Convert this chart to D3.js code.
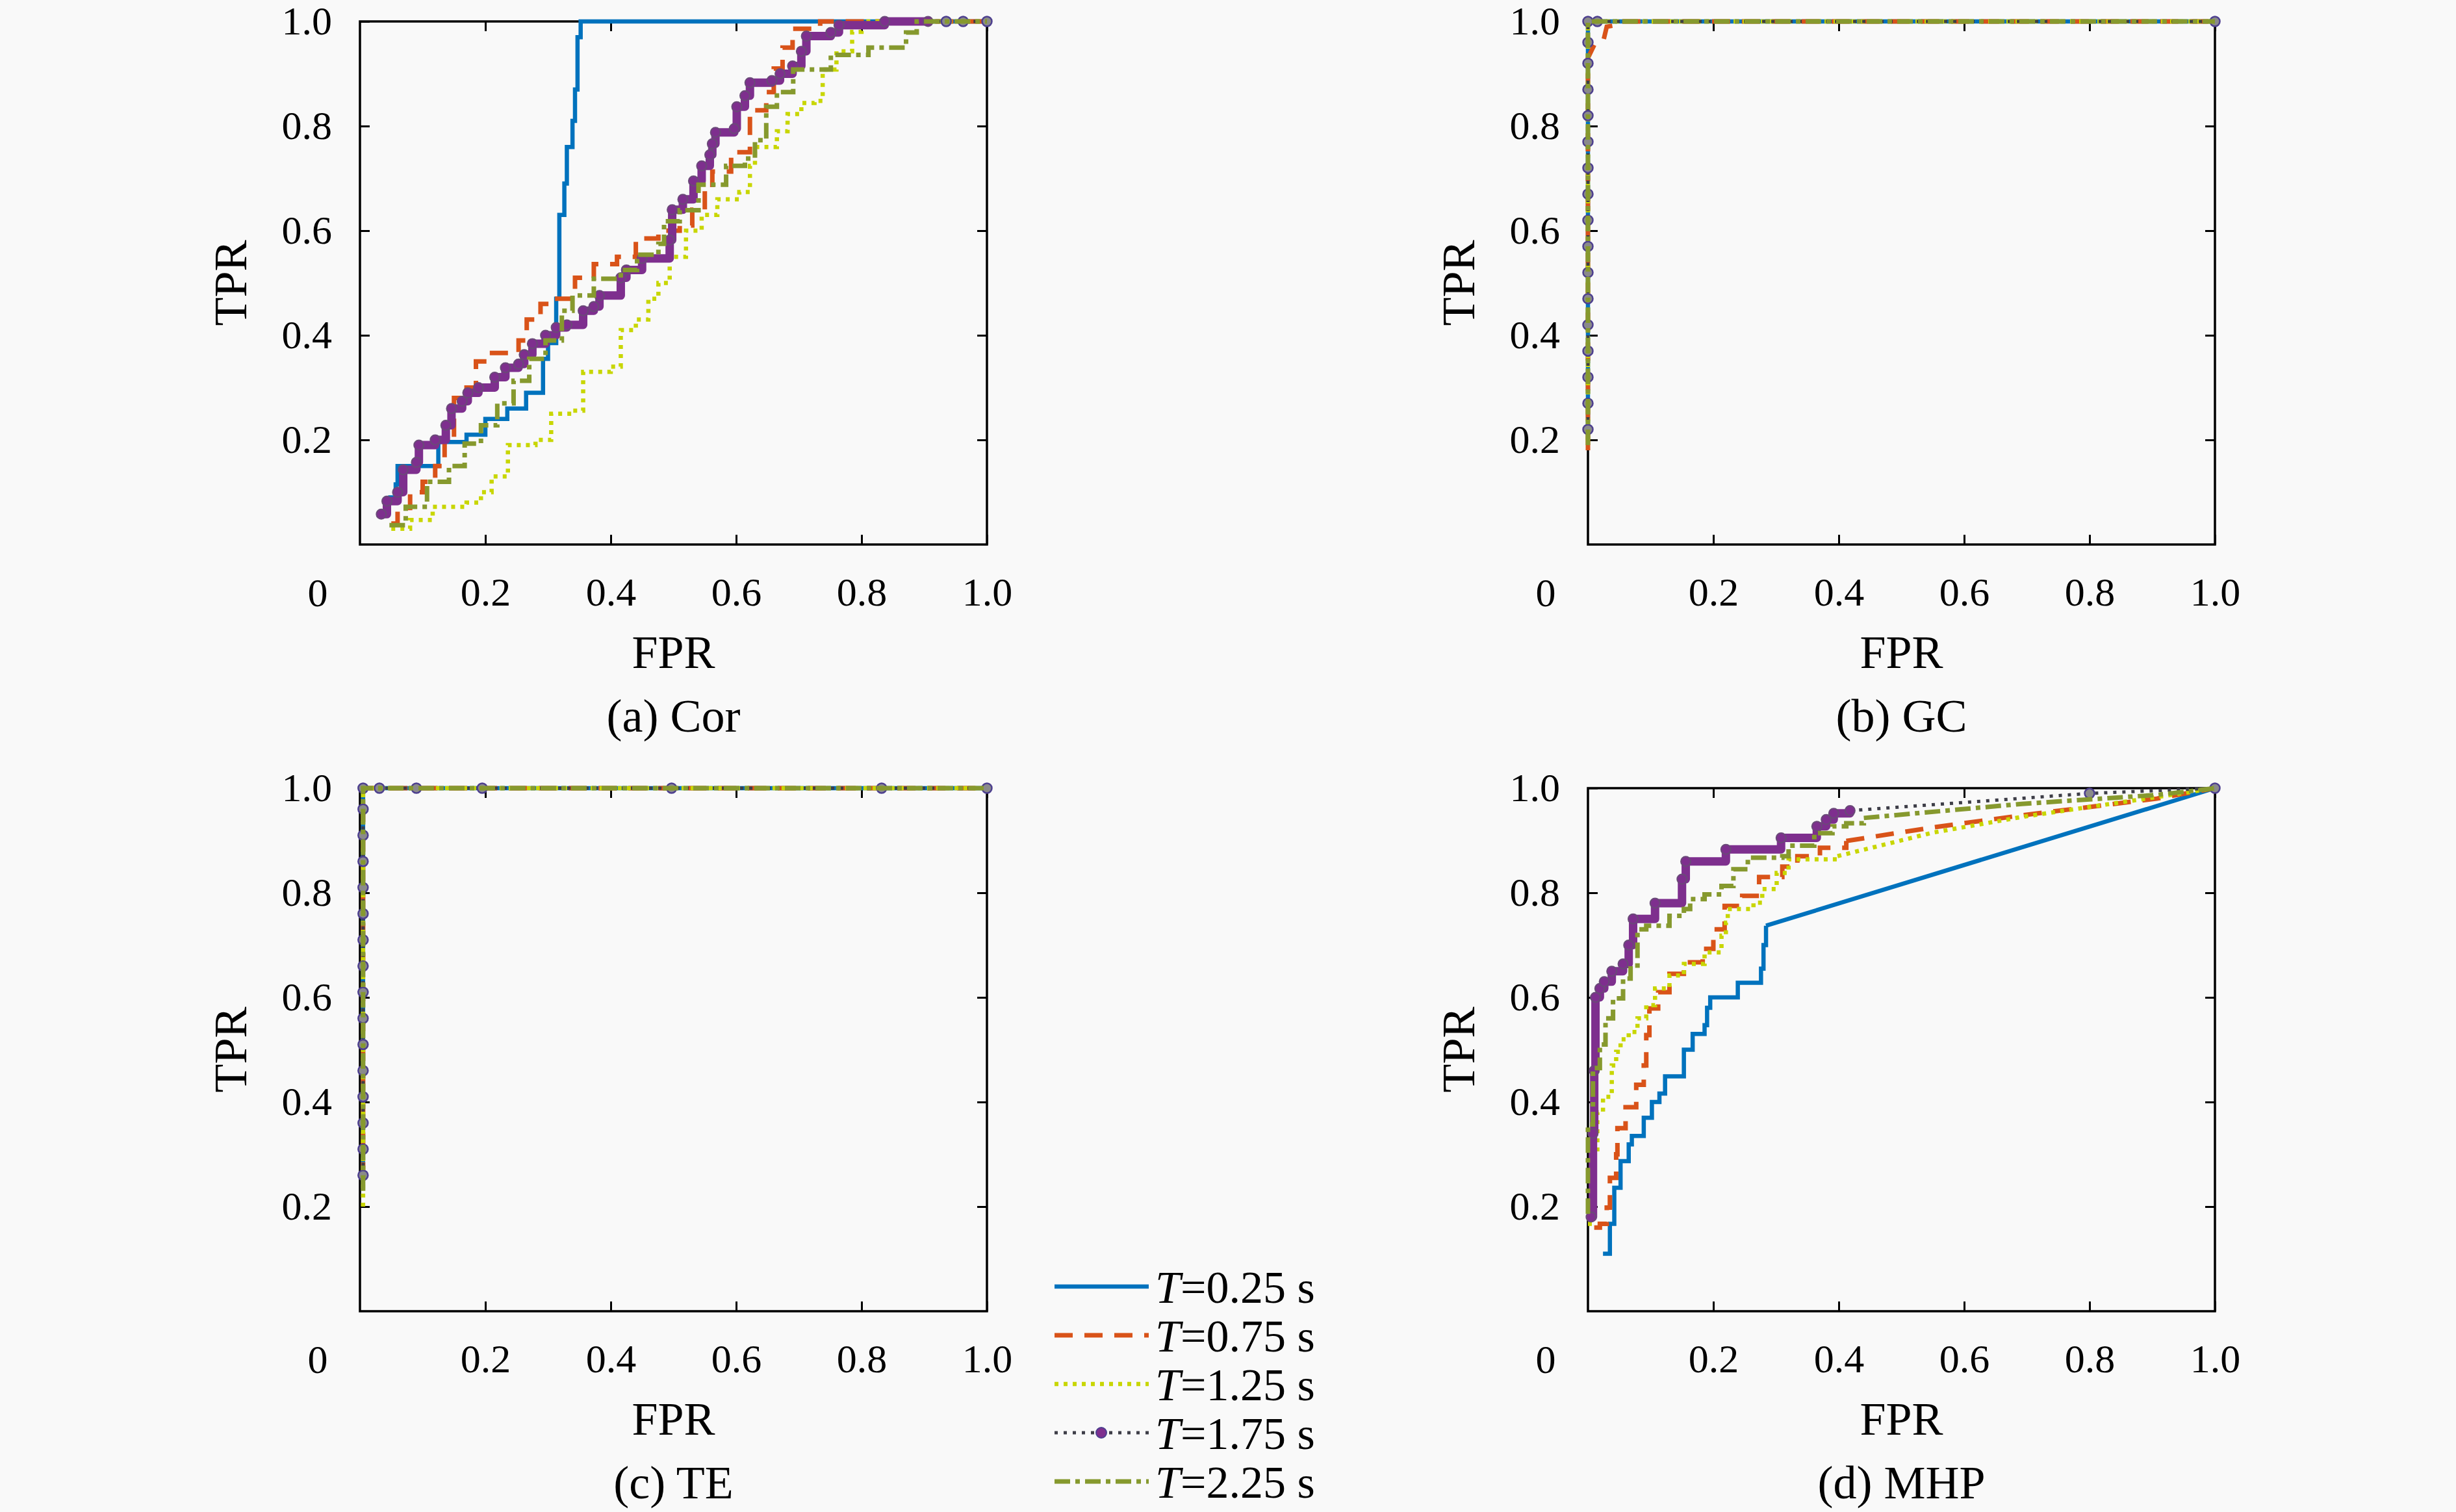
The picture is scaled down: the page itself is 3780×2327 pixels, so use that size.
<!DOCTYPE html>
<html>
<head>
<meta charset="utf-8">
<script src="https://cdn.jsdelivr.net/npm/d3@7"></script>
<style>
  body { margin: 0; background: #f9f9f9; }
  text { font-family: "Liberation Serif", "DejaVu Serif", serif; fill: #000; }
</style>
</head>
<body>
<div id="container"></div>
<script>
let w = 3780;
let h = 2327;

// legend / series
const periods = ["0.25", "0.75", "1.25", "1.75", "2.25"];
const colors = ["#0072bd", "#d95319", "#c8d600", "#3e3e48", "#86992e"];
const dashes = [null, "28,18", "6,8", "5,9", "24,8,7,8"];
const widths = [6.5, 7, 6.5, 5, 7];
const purple = "#7e2f8e";

const tickVals = [0.2, 0.4, 0.6, 0.8, 1.0];

// (a) Cor  -- staircase points (step after)
const corT025 = [[0.045,0.09],[0.057,0.115],[0.06,0.15],[0.125,0.196],[0.17,0.21],[0.2,0.24],[0.235,0.26],[0.265,0.29],[0.292,0.355],[0.3,0.385],[0.313,0.47],[0.318,0.63],[0.326,0.69],[0.33,0.76],[0.339,0.81],[0.343,0.87],[0.347,0.97],[0.352,1.0],[1,1]];
const corT075 = [[0.05,0.04],[0.06,0.07],[0.08,0.1],[0.1,0.12],[0.12,0.15],[0.135,0.2],[0.15,0.28],[0.17,0.3],[0.185,0.35],[0.205,0.366],[0.253,0.39],[0.266,0.43],[0.288,0.46],[0.31,0.47],[0.343,0.51],[0.373,0.536],[0.41,0.55],[0.44,0.585],[0.476,0.6],[0.51,0.61],[0.53,0.64],[0.55,0.68],[0.562,0.713],[0.592,0.75],[0.622,0.83],[0.648,0.865],[0.66,0.91],[0.674,0.95],[0.69,0.986],[0.734,1],[1,1]];
const corT125 = [[0.05,0.03],[0.08,0.047],[0.116,0.072],[0.17,0.08],[0.193,0.1],[0.21,0.13],[0.236,0.19],[0.28,0.2],[0.305,0.25],[0.34,0.256],[0.356,0.33],[0.4,0.34],[0.416,0.41],[0.44,0.43],[0.46,0.47],[0.476,0.5],[0.494,0.55],[0.52,0.6],[0.545,0.63],[0.57,0.66],[0.605,0.674],[0.622,0.724],[0.63,0.76],[0.665,0.79],[0.682,0.823],[0.704,0.844],[0.725,0.848],[0.738,0.908],[0.76,0.943],[0.785,0.98],[0.8,1],[1,1]];
const corT175 = [[0.034,0.058],[0.043,0.083],[0.06,0.1],[0.069,0.143],[0.09,0.157],[0.094,0.19],[0.12,0.2],[0.137,0.228],[0.146,0.26],[0.163,0.274],[0.172,0.29],[0.189,0.3],[0.215,0.32],[0.232,0.338],[0.253,0.345],[0.262,0.363],[0.275,0.384],[0.296,0.4],[0.313,0.415],[0.33,0.42],[0.356,0.447],[0.373,0.455],[0.382,0.476],[0.416,0.51],[0.425,0.525],[0.45,0.547],[0.494,0.582],[0.498,0.64],[0.515,0.66],[0.532,0.695],[0.545,0.724],[0.558,0.745],[0.562,0.766],[0.567,0.788],[0.597,0.795],[0.601,0.837],[0.614,0.858],[0.622,0.883],[0.657,0.887],[0.67,0.9],[0.69,0.915],[0.704,0.943],[0.712,0.972],[0.751,0.979],[0.764,0.993],[0.837,1],[0.906,1]];
const corT175Tail = [[0.935,1],[0.962,1],[1,1]];
const corT225 = [[0.047,0.037],[0.073,0.072],[0.107,0.12],[0.142,0.15],[0.167,0.193],[0.193,0.228],[0.219,0.27],[0.245,0.313],[0.27,0.355],[0.296,0.39],[0.322,0.447],[0.339,0.476],[0.373,0.508],[0.416,0.525],[0.442,0.554],[0.476,0.575],[0.485,0.618],[0.51,0.639],[0.54,0.688],[0.584,0.724],[0.614,0.738],[0.63,0.773],[0.648,0.837],[0.665,0.865],[0.691,0.908],[0.751,0.936],[0.811,0.95],[0.871,0.979],[0.888,1],[1,1]];

// (b) GC  -- straight segments
const gcT025 = [[0,0.2],[0,1],[1,1]];
const gcT075 = [[0,0.18],[0,0.93],[0.01,0.955],[0.025,0.965],[0.03,0.99],[0.045,0.993],[0.05,1],[1,1]];
const gcT125 = [[0,0.2],[0,1],[1,1]];
const gcT175 = [[0,0.22],[0,0.27],[0,0.32],[0,0.37],[0,0.42],[0,0.47],[0,0.52],[0,0.57],[0,0.62],[0,0.67],[0,0.72],[0,0.77],[0,0.82],[0,0.87],[0,0.92],[0,0.96],[0,1],[0.015,1],[1,1]];
const gcT225 = [[0,0.19],[0,1],[1,1]];

// (c) TE
const teT025 = [[0.005,0.27],[0.005,1],[1,1]];
const teT075 = [[0.005,0.25],[0.005,1],[1,1]];
const teT125 = [[0.005,0.2],[0.005,1],[1,1]];
const teT175 = [[0.005,0.26],[0.005,0.31],[0.005,0.36],[0.005,0.41],[0.005,0.46],[0.005,0.51],[0.005,0.56],[0.005,0.61],[0.005,0.66],[0.005,0.71],[0.005,0.76],[0.005,0.81],[0.005,0.86],[0.005,0.91],[0.005,0.96],[0.005,1],[0.031,1],[0.09,1],[0.195,1],[0.497,1],[0.832,1],[1,1]];
const teT225 = [[0.005,0.23],[0.005,1],[1,1]];

// (d) MHP  -- staircase head + straight tail
const mhpT025 = [[0.024,0.11],[0.035,0.167],[0.042,0.173],[0.042,0.236],[0.052,0.287],[0.065,0.319],[0.07,0.335],[0.089,0.37],[0.102,0.4],[0.114,0.416],[0.123,0.449],[0.153,0.5],[0.167,0.53],[0.186,0.547],[0.19,0.58],[0.195,0.6],[0.239,0.628],[0.276,0.655],[0.28,0.7],[0.284,0.737]];
const mhpT025Tail = [[1,1]];
const mhpT075 = [[0.01,0.16],[0.019,0.167],[0.03,0.198],[0.035,0.255],[0.045,0.3],[0.047,0.35],[0.06,0.39],[0.077,0.433],[0.089,0.47],[0.093,0.528],[0.098,0.579],[0.112,0.61],[0.13,0.645],[0.153,0.667],[0.183,0.693],[0.2,0.73],[0.218,0.775],[0.246,0.794],[0.273,0.83],[0.31,0.85],[0.334,0.87],[0.37,0.886],[0.412,0.899]];
const mhpT075Tail = [[0.55,0.925],[0.692,0.948],[0.907,0.98],[1,1]];
const mhpT125 = [[0,0.167],[0.008,0.3],[0.015,0.38],[0.024,0.41],[0.038,0.47],[0.045,0.496],[0.052,0.52],[0.065,0.534],[0.079,0.56],[0.093,0.585],[0.107,0.617],[0.13,0.642],[0.153,0.664],[0.186,0.686],[0.213,0.718],[0.22,0.743],[0.223,0.769],[0.264,0.781],[0.278,0.807],[0.301,0.838],[0.32,0.864],[0.398,0.87]];
const mhpT125Tail = [[0.55,0.915],[0.692,0.945],[0.907,0.983],[1,1]];
const mhpT175 = [[0.005,0.18],[0.008,0.34],[0.01,0.46],[0.012,0.6],[0.019,0.617],[0.026,0.63],[0.038,0.65],[0.056,0.664],[0.065,0.7],[0.072,0.75],[0.107,0.78],[0.15,0.826],[0.156,0.86],[0.22,0.883],[0.308,0.905],[0.365,0.927],[0.38,0.94],[0.392,0.952],[0.418,0.957]];
const mhpT175Tail = [[0.8,0.99],[1,1]];
const mhpT225 = [[0,0.186],[0,0.357],[0.008,0.465],[0.019,0.51],[0.028,0.56],[0.04,0.598],[0.056,0.636],[0.068,0.661],[0.079,0.73],[0.093,0.737],[0.13,0.756],[0.153,0.769],[0.163,0.788],[0.186,0.797],[0.213,0.813],[0.232,0.845],[0.255,0.867],[0.31,0.87],[0.32,0.89],[0.361,0.914],[0.39,0.927],[0.412,0.933],[0.44,0.943]];
const mhpT225Tail = [[0.692,0.97],[0.907,0.987],[1,1]];

const panels = [
  { caption: "(a) Cor", left: 554, top: 33,
    head: [corT025, corT075, corT125, corT175, corT225],
    tail: [[], [], [], corT175Tail, []] },
  { caption: "(b) GC", left: 2444, top: 33,
    head: [[], [], [], [], []],
    tail: [gcT025, gcT075, gcT125, gcT175, gcT225] },
  { caption: "(c) TE", left: 554, top: 1213,
    head: [[], [], [], [], []],
    tail: [teT025, teT075, teT125, teT175, teT225] },
  { caption: "(d) MHP", left: 2444, top: 1213,
    head: [mhpT025, mhpT075, mhpT125, mhpT175, mhpT225],
    tail: [mhpT025Tail, mhpT075Tail, mhpT125Tail, mhpT175Tail, mhpT225Tail] }
];

const pw = 965;
const ph = 805;

let viz = d3.select("#container")
  .append("svg")
  .attr("width", w)
  .attr("height", h)
  .style("background-color", "#f9f9f9");

viz.append("rect").attr("width", w).attr("height", h).attr("fill", "#f9f9f9");

panels.forEach(function(p) {
  let g = viz.append("g").attr("transform", "translate(" + p.left + "," + p.top + ")");
  let x = d3.scaleLinear().domain([0, 1]).range([0, pw]);
  let y = d3.scaleLinear().domain([0, 1]).range([ph, 0]);

  // inward ticks on all four sides
  let fmt = d3.format(".1f");
  g.append("g").attr("transform", "translate(0," + ph + ")")
    .call(d3.axisBottom(x).tickValues(tickVals).tickSize(-15).tickPadding(50).tickFormat(fmt));
  g.append("g")
    .call(d3.axisLeft(y).tickValues(tickVals).tickSize(-15).tickPadding(43).tickFormat(fmt));
  g.append("g").call(d3.axisTop(x).tickValues(tickVals).tickSize(-15).tickFormat(""));
  g.append("g").attr("transform", "translate(" + pw + ",0)")
    .call(d3.axisRight(y).tickValues(tickVals).tickSize(-15).tickFormat(""));
  g.selectAll(".domain").remove();
  g.selectAll(".tick line").attr("stroke", "#000").attr("stroke-width", 3);
  g.selectAll(".tick text").style("font-size", "62px").style("font-family", "Liberation Serif");

  g.append("rect").attr("width", pw).attr("height", ph)
    .attr("fill", "none").attr("stroke", "#000").attr("stroke-width", 3.5);

  // shared origin label
  g.append("text").attr("x", -65).attr("y", ph + 95)
    .attr("text-anchor", "middle").style("font-size", "62px").text("0");

  g.append("text").attr("x", pw / 2).attr("y", ph + 190)
    .attr("text-anchor", "middle").style("font-size", "72px").text("FPR");
  g.append("text").attr("transform", "translate(-175," + (ph / 2) + ") rotate(-90)")
    .attr("text-anchor", "middle").style("font-size", "72px").text("TPR");
  g.append("text").attr("x", pw / 2).attr("y", ph + 288)
    .attr("text-anchor", "middle").style("font-size", "72px").text(p.caption);

  let stepLine = d3.line().x(d => x(d[0])).y(d => y(d[1])).curve(d3.curveStepAfter);
  let straight = d3.line().x(d => x(d[0])).y(d => y(d[1]));

  for (let i = 0; i < periods.length; i++) {
    let head = p.head[i];
    let tail = p.tail[i];
    let tailPts = head.length ? [head[head.length - 1]].concat(tail) : tail;

    if (i === 3) {
      // T=1.75: dense purple staircase, dotted grey between sparse points
      if (tail.length) {
        g.append("path").attr("d", straight(tailPts)).attr("fill", "none")
          .attr("stroke", colors[i]).attr("stroke-width", widths[i])
          .attr("stroke-dasharray", dashes[i]);
      }
      if (head.length) {
        g.append("path").attr("d", stepLine(head)).attr("fill", "none")
          .attr("stroke", purple).attr("stroke-width", 13).attr("stroke-linejoin", "round");
        g.selectAll(null).data(head).enter().append("circle")
          .attr("cx", d => x(d[0])).attr("cy", d => y(d[1])).attr("r", 7.5)
          .attr("fill", purple).attr("stroke", "#6a4a78").attr("stroke-width", 2);
      }
      g.selectAll(null).data(tail).enter().append("circle")
        .attr("cx", d => x(d[0])).attr("cy", d => y(d[1])).attr("r", 7.5)
        .attr("fill", "#8a8a8a").attr("stroke", "#4d3f8f").attr("stroke-width", 2.5);
      continue;
    }

    if (head.length) {
      g.append("path").attr("d", stepLine(head)).attr("fill", "none")
        .attr("stroke", colors[i]).attr("stroke-width", widths[i])
        .attr("stroke-dasharray", dashes[i]);
    }
    if (tail.length) {
      g.append("path").attr("d", straight(tailPts)).attr("fill", "none")
        .attr("stroke", colors[i]).attr("stroke-width", widths[i])
        .attr("stroke-dasharray", dashes[i]);
    }
  }
});

// legend
let legend = viz.append("g").attr("class", "legend");
periods.forEach(function(t, i) {
  let ly = 1980 + i * 75;
  legend.append("line")
    .attr("x1", 1623).attr("x2", 1768).attr("y1", ly).attr("y2", ly)
    .attr("stroke", colors[i]).attr("stroke-width", widths[i])
    .attr("stroke-dasharray", dashes[i]);
  if (i === 3) {
    legend.append("circle").attr("cx", 1695).attr("cy", ly).attr("r", 8)
      .attr("fill", purple).attr("stroke", "#4d3f8f").attr("stroke-width", 2);
  }
  let txt = legend.append("text").attr("x", 1778).attr("y", ly + 25).style("font-size", "70px");
  txt.append("tspan").style("font-style", "italic").text("T");
  txt.append("tspan").text("=" + t + " s");
});
</script>
</body>
</html>
